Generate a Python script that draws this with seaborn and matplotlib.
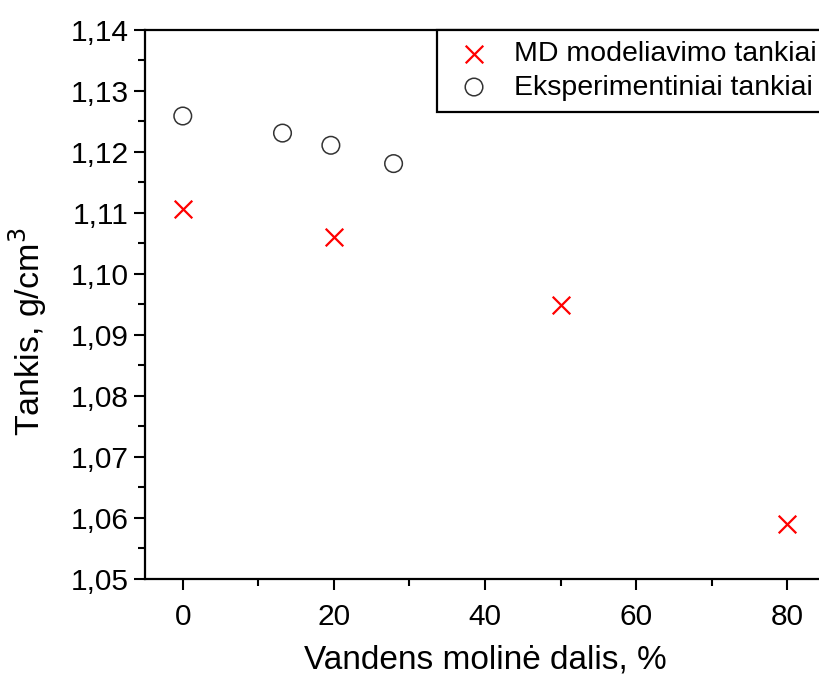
import matplotlib
matplotlib.use("Agg")
import matplotlib.pyplot as plt
import seaborn as sns
import pandas as pd
from matplotlib.ticker import MultipleLocator, FuncFormatter

md_x = [0, 20, 50, 80]
md_y = [1.1106, 1.1061, 1.0949, 1.0590]
exp_x = [0, 13.2, 19.6, 27.9]
exp_y = [1.1259, 1.1231, 1.1211, 1.1181]
md_label = "MD modeliavimo tankiai"
exp_label = "Eksperimentiniai tankiai"

sns.set_theme(style="ticks")
plt.rcParams['font.family'] = ['Liberation Sans', 'DejaVu Sans']
plt.rcParams['text.color'] = 'black'
plt.rcParams['axes.labelcolor'] = 'black'

fig = plt.figure(figsize=(8.19, 6.8), dpi=100)
W, H = 819, 680
left, right, top, bottom = 145, 825, 30, 579
ax = fig.add_axes([left / W, 1 - bottom / H, (right - left) / W, (bottom - top) / H])

md = pd.DataFrame({"x": md_x, "y": md_y})
ex = pd.DataFrame({"x": exp_x, "y": exp_y})
sns.scatterplot(data=md, x="x", y="y", ax=ax, marker="x", color="red", s=160,
                linewidth=1.6, label=md_label, zorder=3)
sns.scatterplot(data=ex, x="x", y="y", ax=ax, marker="o", facecolor="none",
                edgecolor="#333333", s=160, linewidth=1.1, label=exp_label, zorder=3)

ax.set_xlim(-5, 85)
ax.set_ylim(1.05, 1.14)
ax.xaxis.set_major_locator(MultipleLocator(20))
ax.xaxis.set_minor_locator(MultipleLocator(10))
ax.yaxis.set_major_locator(MultipleLocator(0.01))
ax.yaxis.set_minor_locator(MultipleLocator(0.005))
ax.yaxis.set_major_formatter(FuncFormatter(lambda v, p: f"{v:.2f}".replace(".", ",")))
ax.tick_params(which="major", direction="out", length=8, width=1.5, labelsize=21.5,
               colors="black", labelcolor="black")
ax.tick_params(which="minor", direction="out", length=5, width=1.5, colors="black")
ax.tick_params(axis="x", pad=9)
for s in ax.spines.values():
    s.set_linewidth(1.6)
    s.set_color("black")

ax.set_xlabel("Vandens molinė dalis, %", fontsize=24, labelpad=10, color="black")
ax.set_ylabel("Tankis, g/cm$^3$", fontsize=24.5, color="black")
ax.yaxis.set_label_coords((49 - left) / (right - left), 0.45)

leg = ax.legend(loc="upper left", bbox_to_anchor=((437 - left) / (right - left), 1.0),
                fontsize=20.5, frameon=True, fancybox=False, edgecolor="black",
                framealpha=1.0, borderpad=0.4, handletextpad=0.5, labelspacing=0.25,
                borderaxespad=0, handlelength=1.8)
leg.get_frame().set_linewidth(1.6)
leg.get_frame().set_edgecolor("black")
for t in leg.get_texts():
    t.set_color("black")

fig.savefig("out.png", dpi=100)
